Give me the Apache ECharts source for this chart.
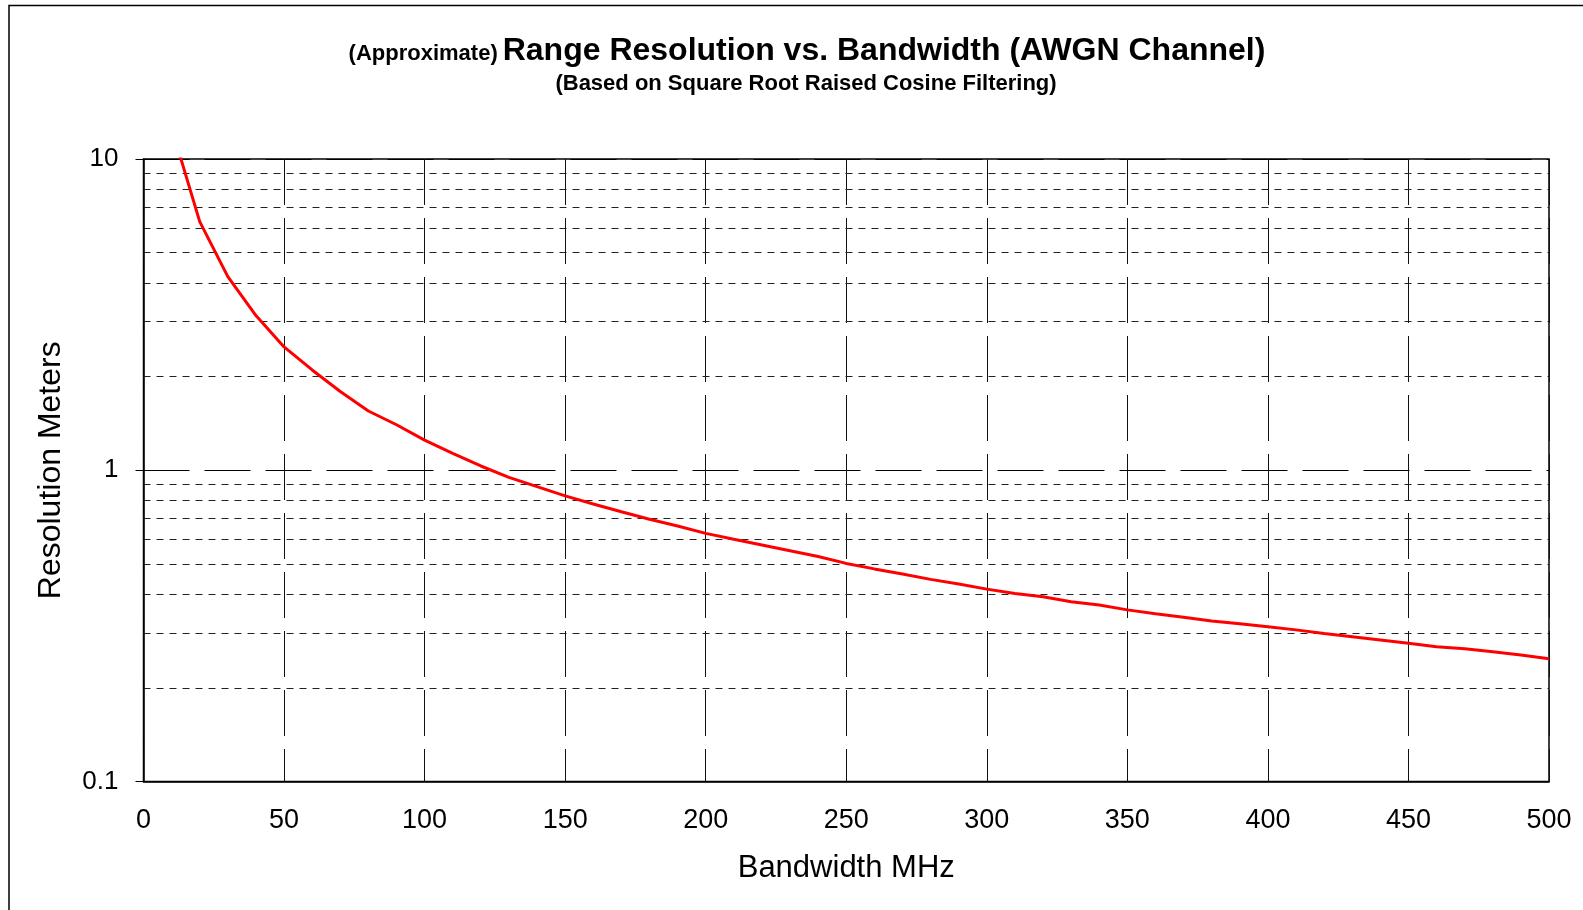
<!DOCTYPE html>
<html>
<head>
<meta charset="utf-8">
<script src="https://cdn.jsdelivr.net/npm/echarts@6/dist/echarts.min.js"></script>
<style>
html,body{margin:0;padding:0;background:#fff;}
#chart{width:1583px;height:910px;}
</style>
</head>
<body>
<div id="chart"></div>
<script>
// ---- data ----
const bandwidthMHz = [10,20,30,40,50,60,70,80,90,100,
  110,120,130,140,150,160,170,180,190,200,
  210,220,230,240,250,260,270,280,290,300,
  310,320,330,340,350,360,370,380,390,400,
  410,420,430,440,450,460,470,480,490,500];
const resolutionMeters = [12.6,6.29,4.19,3.14,2.49,2.10,1.79,1.55,1.40,1.25,
  1.133,1.032,0.949,0.886,0.827,0.779,0.736,0.696,0.662,0.627,
  0.600,0.575,0.551,0.528,0.502,0.482,0.464,0.446,0.431,0.415,
  0.402,0.392,0.378,0.369,0.356,0.346,0.337,0.328,0.321,0.314,
  0.307,0.299,0.292,0.285,0.278,0.271,0.267,0.261,0.255,0.248];
const minorGridValues = [0.2,0.3,0.4,0.5,0.6,0.7,0.8,0.9,2,3,4,5,6,7,8,9];
const titleMain = 'Range Resolution vs. Bandwidth (AWGN Channel)';
const titlePrefix = '(Approximate)';
const subTitle = '(Based on Square Root Raised Cosine Filtering)';
const xAxisName = 'Bandwidth MHz';
const yAxisName = 'Resolution Meters';

const FONT = 'Arial, "Liberation Sans", Helvetica, sans-serif';
const chart = echarts.init(document.getElementById('chart'), null, {renderer:'canvas'});

const curve = bandwidthMHz.map((b, i) => [b, resolutionMeters[i]]);

chart.setOption({
  animation: false,
  backgroundColor: '#fff',
  graphic: [{
    type: 'rect', silent: true,
    shape: {x: 9, y: 5.5, width: 1700, height: 1000},
    style: {fill: 'none', stroke: '#000', lineWidth: 1.5}
  }],
  title: [{
    text: '{a|' + titlePrefix + '} {b|' + titleMain + '}',
    left: 802, top: 28, textAlign: 'center',
    textStyle: {
      rich: {
        a: {fontSize: 22, fontWeight: 'bold', fontFamily: FONT, color: '#000', lineHeight: 36, padding: [6, 0, 0, 0]},
        b: {fontSize: 32, fontWeight: 'bold', fontFamily: FONT, color: '#000', lineHeight: 36}
      }
    }
  }, {
    text: subTitle,
    left: 801, top: 66, textAlign: 'center',
    textStyle: {fontSize: 22, fontWeight: 'bold', fontFamily: FONT, color: '#000', lineHeight: 26}
  }],
  grid: {
    left: 143.5, right: 34, top: 159, bottom: 128.5,
    show: true, borderColor: '#000', borderWidth: 1.5, backgroundColor: 'transparent'
  },
  xAxis: {
    type: 'value', min: 0, max: 500, interval: 50,
    name: xAxisName, nameLocation: 'middle', nameGap: 71,
    nameTextStyle: {fontSize: 31, fontFamily: FONT, color: '#000'},
    axisLine: {show: true, lineStyle: {color: '#000', width: 1.5}},
    axisTick: {show: false},
    axisLabel: {fontSize: 27, fontFamily: FONT, color: '#000', margin: 26},
    splitLine: {show: true, lineStyle: {color: '#111', width: 1, type: [46, 13]}}
  },
  yAxis: {
    type: 'log', logBase: 10, min: 0.1, max: 10,
    name: yAxisName, nameLocation: 'middle', nameGap: 76,
    nameTextStyle: {fontSize: 32, fontFamily: FONT, color: '#000'},
    axisLine: {show: true, lineStyle: {color: '#000', width: 1.5}},
    axisTick: {show: true, inside: false, length: 8, lineStyle: {color: '#000', width: 1}},
    axisLabel: {fontSize: 26, fontFamily: FONT, color: '#000', margin: 25,
      formatter: v => String(Number(v.toPrecision(3)))},
    splitLine: {show: true, lineStyle: {color: '#000', width: 1, type: [46, 15]}},
    minorTick: {show: false},
    minorSplitLine: {show: false}
  },
  series: [{
    type: 'line', data: [], z: 1, silent: true,
    markLine: {
      silent: true, symbol: 'none', animation: false,
      label: {show: false},
      lineStyle: {color: '#222', width: 1, type: [7, 6]},
      data: minorGridValues.map(v => ({yAxis: v}))
    }
  }, {
    type: 'line', data: curve, z: 5,
    showSymbol: false, symbol: 'none', smooth: false, clip: true,
    lineStyle: {color: '#ff0000', width: 3}
  }]
});
</script>
</body>
</html>
